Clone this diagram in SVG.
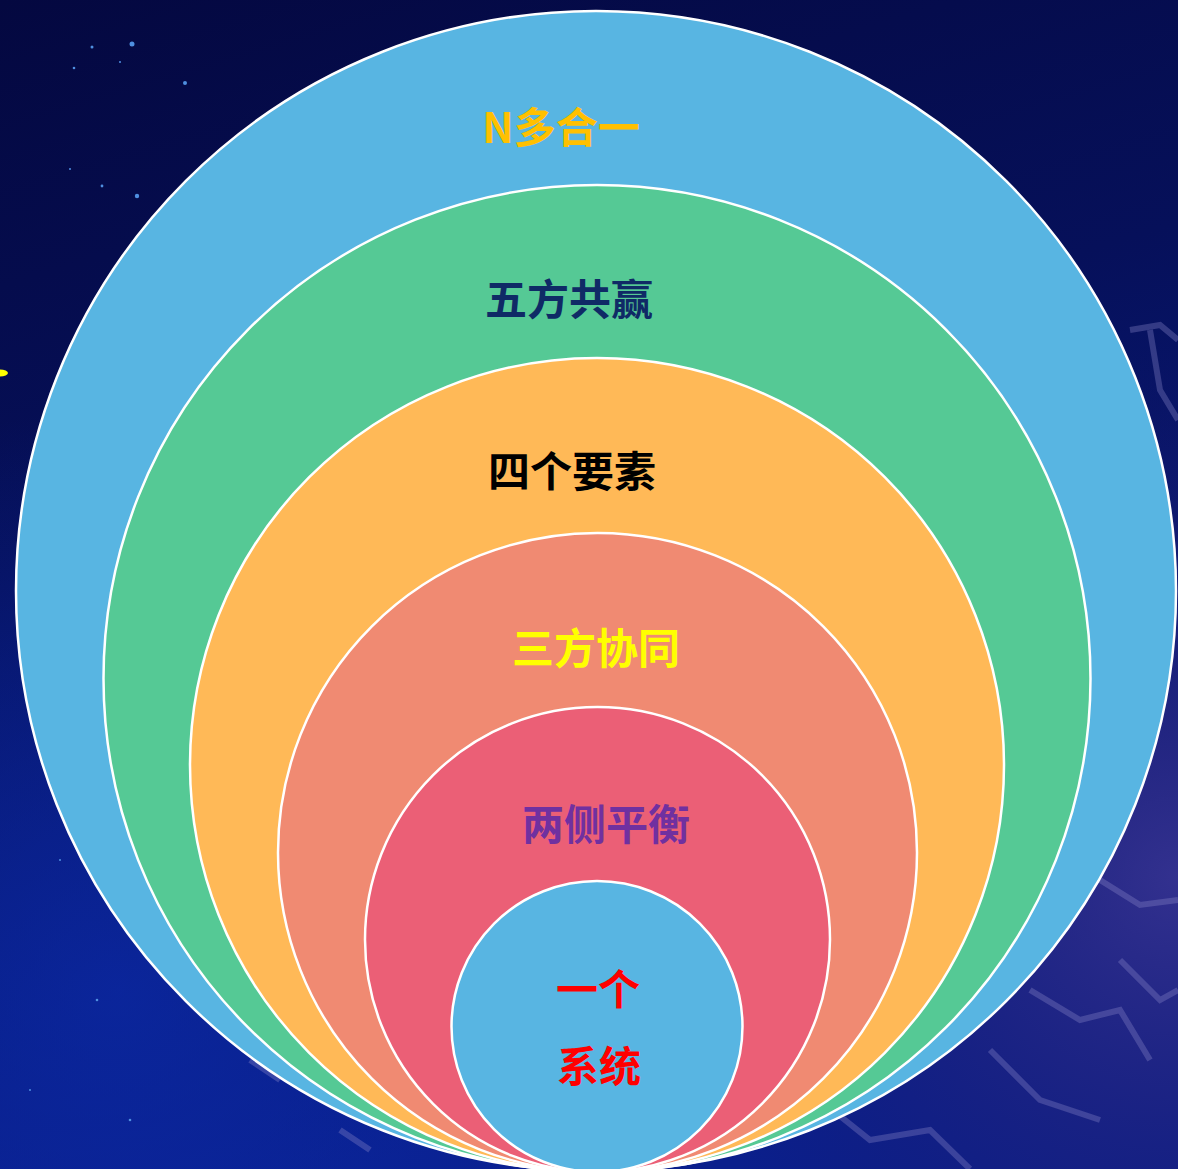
<svg xmlns="http://www.w3.org/2000/svg" width="1178" height="1169" viewBox="0 0 1178 1169">
  <defs>
    <linearGradient id="bg" x1="0" y1="0" x2="0.3" y2="1">
      <stop offset="0" stop-color="#040840"/>
      <stop offset="0.45" stop-color="#06105a"/>
      <stop offset="1" stop-color="#0a1f8c"/>
    </linearGradient>
    <radialGradient id="glowR" cx="1" cy="0.75" r="0.45">
      <stop offset="0" stop-color="#3a3490" stop-opacity="0.85"/>
      <stop offset="1" stop-color="#1a1460" stop-opacity="0"/>
    </radialGradient>
    <radialGradient id="glowL" cx="0.1" cy="0.85" r="0.5">
      <stop offset="0" stop-color="#0b2aa8" stop-opacity="0.7"/>
      <stop offset="1" stop-color="#0b2aa8" stop-opacity="0"/>
    </radialGradient>
    <style>
      .ring { stroke: #ffffff; stroke-width: 2.5; }
      .lbl { font-family: "Noto Sans CJK SC", "Noto Sans", sans-serif; font-weight: 700; font-size: 42px; text-anchor: middle; }
      .star { fill: #4f8fe0; }
      .lattice { fill: none; stroke: #8a86c8; stroke-opacity: 0.35; stroke-width: 6; }
    </style>
  </defs>

  <g id="background">
    <rect x="0" y="0" width="1178" height="1169" fill="url(#bg)"/>
    <rect x="0" y="0" width="1178" height="1169" fill="url(#glowL)"/>
    <rect x="0" y="0" width="1178" height="1169" fill="url(#glowR)"/>
    <g class="star">
      <circle cx="132" cy="44" r="2.5"/>
      <circle cx="92" cy="47" r="1.5"/>
      <circle cx="185" cy="83" r="2"/>
      <circle cx="74" cy="68" r="1.3"/>
      <circle cx="137" cy="196" r="2.2"/>
      <circle cx="102" cy="186" r="1.4"/>
      <circle cx="120" cy="62" r="1"/>
      <circle cx="70" cy="169" r="1"/>
      <circle cx="97" cy="1000" r="1.3"/>
      <circle cx="130" cy="1120" r="1.3"/>
      <circle cx="30" cy="1090" r="1"/>
      <circle cx="60" cy="860" r="1"/>
    </g>
    <g class="lattice">
      <path d="M1130 330 L1160 325 L1178 340 M1150 330 L1160 390 L1178 420"/>
      <path d="M1100 880 L1140 905 L1178 900 M1120 960 L1160 1000 L1178 990"/>
      <path d="M1030 990 L1080 1020 L1120 1010 L1150 1060 M990 1050 L1040 1100 L1100 1120"/>
      <path d="M820 1100 L870 1140 L930 1130 L970 1169"/>
      <path d="M250 1060 L280 1080 M340 1130 L370 1150"/>
    </g>
    <ellipse cx="0" cy="373" rx="8" ry="3.5" fill="#ffff00"/>
  </g>

  <g id="n-in-one">
    <circle class="ring" cx="596" cy="591" r="580" fill="#58b5e2"/>
    <text class="lbl" x="561" y="143" fill="#ffc000">N多合一</text>
  </g>
  <g id="five-win">
    <circle class="ring" cx="597" cy="678.5" r="493.5" fill="#55c995"/>
    <text class="lbl" x="569" y="315" fill="#0f2a66">五方共赢</text>
  </g>
  <g id="four-elements">
    <circle class="ring" cx="597" cy="765" r="407" fill="#ffb957"/>
    <text class="lbl" x="572" y="487" fill="#000000">四个要素</text>
  </g>
  <g id="three-collab">
    <circle class="ring" cx="597.5" cy="852.5" r="319.5" fill="#f08a72"/>
    <text class="lbl" x="596" y="664" fill="#ffff00">三方协同</text>
  </g>
  <g id="two-balance">
    <circle class="ring" cx="597.5" cy="939.5" r="232.5" fill="#eb5f76"/>
    <text class="lbl" x="606" y="840" fill="#7030a0">两侧平衡</text>
  </g>
  <g id="one-system">
    <circle class="ring" cx="597" cy="1026.5" r="145.5" fill="#58b5e2"/>
    <text class="lbl" x="598" y="1005" fill="#ff0000">一个</text>
    <text class="lbl" x="599" y="1082" fill="#ff0000">系统</text>
  </g>
</svg>
